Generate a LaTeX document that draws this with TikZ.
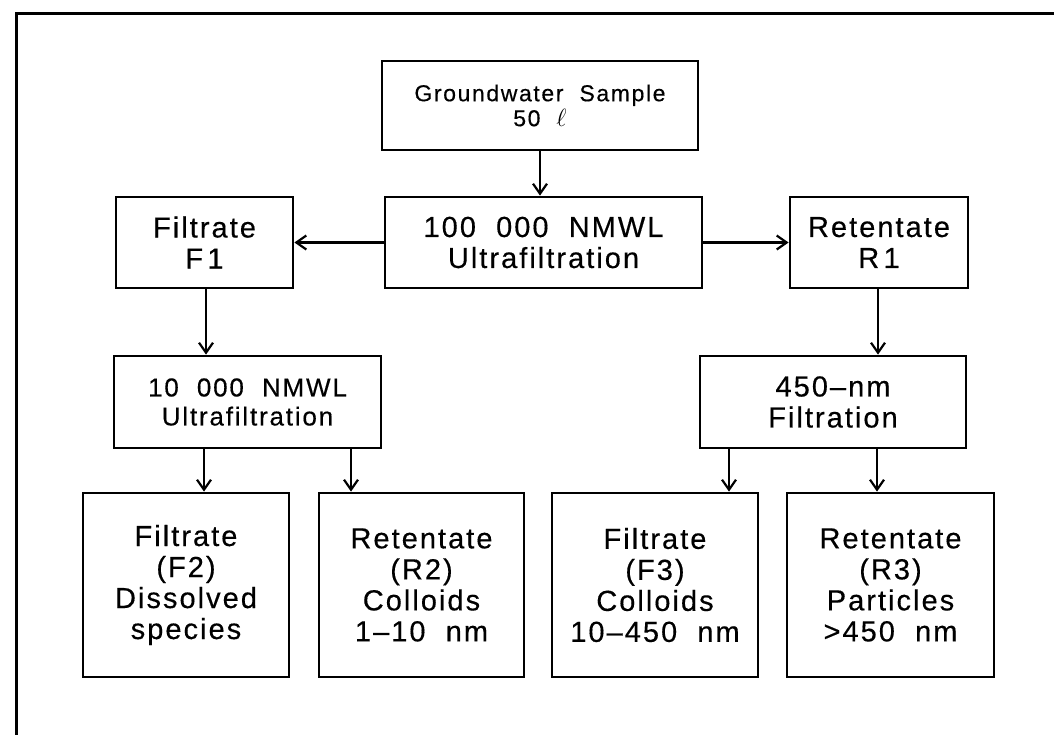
\documentclass[tikz,border=0pt]{standalone}
\usepackage{fontspec}
\setmainfont{Liberation Sans}[LetterSpace=7,WordSpace=2,FakeBold=0.4]
\usetikzlibrary{arrows.meta,calc}
\begin{document}
\begin{tikzpicture}[x=1pt,y=-1pt,
  box/.style={draw,line width=2.8pt,inner sep=0pt,align=center,
    font=\fontsize{29}{31}\selectfont},
  small/.style={font=\fontsize{23}{25}\selectfont},
  mid/.style={font=\fontsize{26}{29}\selectfont},
  topbox/.style={box,minimum width=#1,minimum height=91pt},
  botbox/.style={box,minimum width=206pt,minimum height=184pt},
  arr/.style={line width=2.2pt,-{Straight Barb[length=10pt,width=14pt]}}]
\useasboundingbox (0,0) rectangle (1054,734);
\draw[line width=3pt] (16,745) -- (16,13) -- (1065,13);
\node[box,small,minimum width=316pt,minimum height=89pt] (gw) at (540,105.5)
  {Groundwater Sample\\50 $\ell$};
\node[topbox=317pt] (uf1) at (543.5,242.5) {100 000 NMWL\\Ultrafiltration};
\node[topbox=177pt] (f1) at (204.5,242.5) {Filtrate\\F\kern0.15em 1};
\node[topbox=178pt] (r1) at (879,242.5) {Retentate\\R\kern0.15em 1};
\node[topbox=267pt,mid,minimum height=92pt] (uf2) at (247.5,402) {10 000 NMWL\\Ultrafiltration};
\node[topbox=266pt,minimum height=92pt] (nm) at (833,402) {450--nm\\Filtration};
\node[botbox] (f2) at (186,585) {Filtrate\\(F2)\\Dissolved\\species};
\node[botbox,minimum width=205pt] (r2) at (421.5,585) {Retentate\\(R2)\\Colloids\\1--10 nm};
\node[botbox] (f3) at (655,585) {Filtrate\\(F3)\\Colloids\\10--450 nm};
\node[botbox,minimum width=207pt] (r3) at (890.5,585) {Retentate\\(R3)\\Particles\\>450 nm};
\draw[arr] (gw.south) -- (gw.south |- uf1.north);
\draw[arr] (uf1.west) -- (f1.east);
\draw[arr] (uf1.east) -- (r1.west);
\draw[arr] ([xshift=1.5pt]f1.south) -- ([xshift=1.5pt]f1.south |- uf2.north);
\draw[arr] ([xshift=-1pt]r1.south) -- ([xshift=-1pt]r1.south |- nm.north);
\draw[arr] ([xshift=-43.5pt]uf2.south) -- ([xshift=18pt]f2.north);
\draw[arr] ([xshift=103.5pt]uf2.south) -- ([xshift=-70.5pt]r2.north);
\draw[arr] ([xshift=-104pt]nm.south) -- ([xshift=74pt]f3.north);
\draw[arr] ([xshift=44pt]nm.south) -- ([xshift=-13.5pt]r3.north);
\end{tikzpicture}
\end{document}
